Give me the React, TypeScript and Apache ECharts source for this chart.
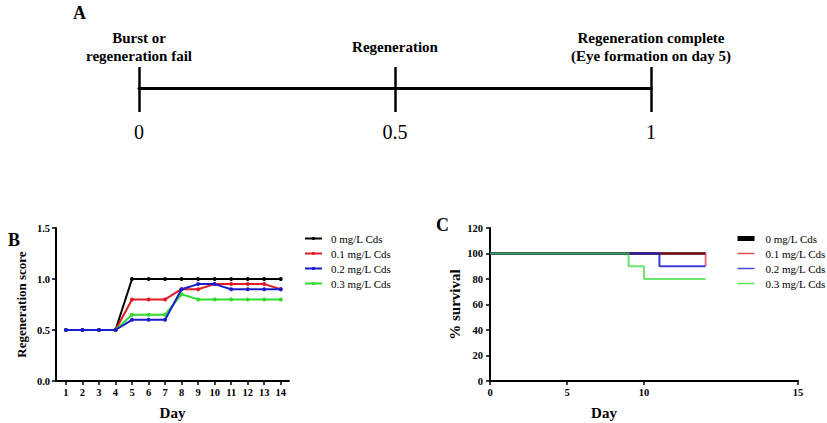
import React, { useEffect, useRef } from "react";
import * as echarts from "echarts";

// Panel A: timeline
const timelineTicks = [0, 0.5, 1];
const timelineTopLabels = [
  "Burst or\nregeneration fail",
  "Regeneration",
  "Regeneration complete\n(Eye formation on day 5)",
];

// Panel B: regeneration score
const days = [1, 2, 3, 4, 5, 6, 7, 8, 9, 10, 11, 12, 13, 14];
const score0 = [0.5, 0.5, 0.5, 0.5, 1.0, 1.0, 1.0, 1.0, 1.0, 1.0, 1.0, 1.0, 1.0, 1.0];
const score01 = [0.5, 0.5, 0.5, 0.5, 0.8, 0.8, 0.8, 0.9, 0.9, 0.95, 0.95, 0.95, 0.95, 0.9];
const score02 = [0.5, 0.5, 0.5, 0.5, 0.6, 0.6, 0.6, 0.9, 0.95, 0.95, 0.9, 0.9, 0.9, 0.9];
const score03 = [0.5, 0.5, 0.5, 0.5, 0.65, 0.65, 0.65, 0.85, 0.8, 0.8, 0.8, 0.8, 0.8, 0.8];

// Panel C: survival
const survX0 = [0, 14];
const surv0 = [100, 100];
const survX01 = [0, 14];
const surv01 = [100, 90];
const survX02 = [0, 11, 14];
const surv02 = [100, 90, 90];
const survX03 = [0, 9, 10, 14];
const surv03 = [100, 90, 80, 80];
// x-axis of panel C as drawn in the figure: ticks at 0, 5, 10 and at the axis end
const survAxisMax = 20;
const survTickValues = [0, 5, 10, 20];
const survTickLabels = ["0", "5", "10", "15"];

const groupNames = ["0 mg/L Cds", "0.1 mg/L Cds", "0.2 mg/L Cds", "0.3 mg/L Cds"];
const colors = ["#000000", "#e01b24", "#1c1ccf", "#2fdc2f"];

const FONT = "'Liberation Serif', 'Times New Roman', serif";
const C_PREFIX = "C:";

const pair = (xs: number[], ys: number[]) => xs.map((x, i) => [x, ys[i]]);

export default function App() {
  const ref = useRef<HTMLDivElement>(null);
  useEffect(() => {
    if (!ref.current) return;
    const chart = echarts.init(ref.current, null, { renderer: "svg" });
    const axisCommon = {
      axisLine: { show: true, onZero: false, lineStyle: { color: "#000", width: 2 } },
      axisTick: { show: true, length: 4, lineStyle: { color: "#000", width: 1.5 } },
      splitLine: { show: false },
    };
    const tickFont = { fontFamily: FONT, fontWeight: "bold" as const, fontSize: 10.5, color: "#000" };
    const nameFont = { fontFamily: FONT, fontWeight: "bold" as const, fontSize: 15, color: "#000" };

    const bArrs = [score0, score01, score02, score03];
    const bSeries = [0, 1, 3, 2].map((k, order) => ({
      name: groupNames[k],
      type: "line",
      xAxisIndex: 0,
      yAxisIndex: 0,
      data: pair(days, bArrs[k]),
      symbol: "circle",
      symbolSize: 4,
      color: colors[k],
      lineStyle: { width: 2, color: colors[k] },
      itemStyle: { color: colors[k] },
      z: 3 + order,
    }));
    const cData = [pair(survX0, surv0), pair(survX01, surv01), pair(survX02, surv02), pair(survX03, surv03)];
    const cOpacity = [1, 0.6, 0.85, 0.7];
    const cSeries = [0, 1, 2, 3].map((k) => ({
      name: C_PREFIX + groupNames[k],
      type: "line",
      xAxisIndex: 1,
      yAxisIndex: 1,
      data: cData[k],
      step: "end",
      symbol: "none",
      color: colors[k],
      lineStyle: { width: k === 0 ? 2.5 : 2, color: colors[k], opacity: cOpacity[k] },
      z: 3 + k,
    }));

    chart.setOption({
      animation: false,
      textStyle: { fontFamily: FONT },
      grid: [
        { left: 56, top: 228, width: 233, height: 153 },
        { left: 490, top: 228, width: 308, height: 153 },
        { left: 139, top: 67, width: 512, height: 45 },
      ],
      xAxis: [
        {
          gridIndex: 0,
          type: "value",
          min: 0.4,
          max: 14.5,
          ...axisCommon,
          axisTick: { ...axisCommon.axisTick, customValues: days },
          axisLabel: { ...tickFont, margin: 6, customValues: days },
          name: "Day",
          nameLocation: "middle",
          nameGap: 24,
          nameTextStyle: nameFont,
        },
        {
          gridIndex: 1,
          type: "value",
          min: 0,
          max: survAxisMax,
          ...axisCommon,
          axisTick: { ...axisCommon.axisTick, customValues: survTickValues },
          axisLabel: {
            ...tickFont,
            margin: 6,
            customValues: survTickValues,
            formatter: (v: number) => {
              const i = survTickValues.indexOf(v);
              return i >= 0 ? survTickLabels[i] : "";
            },
          },
          name: "Day",
          nameLocation: "middle",
          nameGap: 24,
          nameTextStyle: { ...nameFont, padding: [0, 80, 0, 0] },
        },
        {
          gridIndex: 2,
          type: "value",
          min: 0,
          max: 1,
          interval: 0.5,
          position: "bottom",
          axisLine: { show: true, onZero: true, lineStyle: { color: "#000", width: 3 } },
          axisTick: { show: false },
          splitLine: { show: true, lineStyle: { color: "#000", width: 2.5, type: "solid" } },
          axisLabel: {
            fontFamily: FONT,
            fontSize: 20,
            color: "#000",
            margin: 10,
            formatter: (v: number) => String(v),
          },
        },
        {
          gridIndex: 2,
          type: "value",
          min: 0,
          max: 1,
          interval: 0.5,
          position: "top",
          axisLine: { show: false, onZero: false },
          axisTick: { show: false },
          splitLine: { show: false },
          axisLabel: {
            fontFamily: FONT,
            fontSize: 15,
            fontWeight: "bold",
            lineHeight: 18,
            color: "#000",
            verticalAlign: "middle",
            margin: 20,
            formatter: (v: number) => {
              const i = timelineTicks.indexOf(v);
              return i >= 0 ? timelineTopLabels[i] : "";
            },
          },
        },
      ],
      yAxis: [
        {
          gridIndex: 0,
          type: "value",
          min: 0,
          max: 1.5,
          interval: 0.5,
          ...axisCommon,
          axisLabel: { ...tickFont, margin: 6, formatter: (v: number) => v.toFixed(1) },
          name: "Regeneration score",
          nameLocation: "middle",
          nameGap: 28,
          nameTextStyle: { ...nameFont, fontSize: 13 },
        },
        {
          gridIndex: 1,
          type: "value",
          min: 0,
          max: 120,
          interval: 20,
          ...axisCommon,
          axisLabel: { ...tickFont, margin: 7 },
          name: "% survival",
          nameLocation: "middle",
          nameGap: 28,
          nameTextStyle: nameFont,
        },
        {
          gridIndex: 2,
          type: "value",
          min: -1,
          max: 0.9,
          axisLine: { show: false },
          axisTick: { show: false },
          axisLabel: { show: false },
          splitLine: { show: false },
        },
      ],
      legend: [
        {
          orient: "vertical",
          left: 304,
          top: 232,
          padding: 0,
          itemWidth: 17,
          itemHeight: 4,
          itemGap: 2,
          data: groupNames,
          textStyle: { fontFamily: FONT, fontSize: 11, lineHeight: 13, color: "#000", padding: [0, 0, 0, 4] },
        },
        {
          orient: "vertical",
          left: 735,
          top: 232,
          padding: 0,
          itemWidth: 17,
          itemHeight: 0.5,
          itemGap: 2,
          data: groupNames.map((n, i) =>
            i === 0
              ? { name: C_PREFIX + n, lineStyle: { width: 5, color: "#000", opacity: 1 } }
              : { name: C_PREFIX + n, lineStyle: { width: 1.5, opacity: 0.8 } }
          ),
          formatter: (n: string) => n.replace(C_PREFIX, ""),
          textStyle: { fontFamily: FONT, fontSize: 11, lineHeight: 13, color: "#000", padding: [0, 0, 0, 6] },
        },
      ],
      graphic: [
        { type: "text", left: 73, top: 4, style: { text: "A", font: `bold 18px ${FONT}`, fill: "#000" } },
        { type: "text", left: 8, top: 231, style: { text: "B", font: `bold 18px ${FONT}`, fill: "#000" } },
        { type: "text", left: 436, top: 216, style: { text: "C", font: `bold 18px ${FONT}`, fill: "#000" } },
      ],
      series: [
        ...bSeries,
        ...cSeries,
        {
          type: "line",
          xAxisIndex: 2,
          yAxisIndex: 2,
          data: timelineTicks.map((t) => [t, 0]),
          symbol: "none",
          lineStyle: { width: 0 },
          silent: true,
        },
      ],
    });
    return () => chart.dispose();
  }, []);
  return (
    <div
      ref={ref}
      style={{ position: "fixed", left: 0, top: 0, width: 827, height: 423, background: "#fff" }}
    />
  );
}
